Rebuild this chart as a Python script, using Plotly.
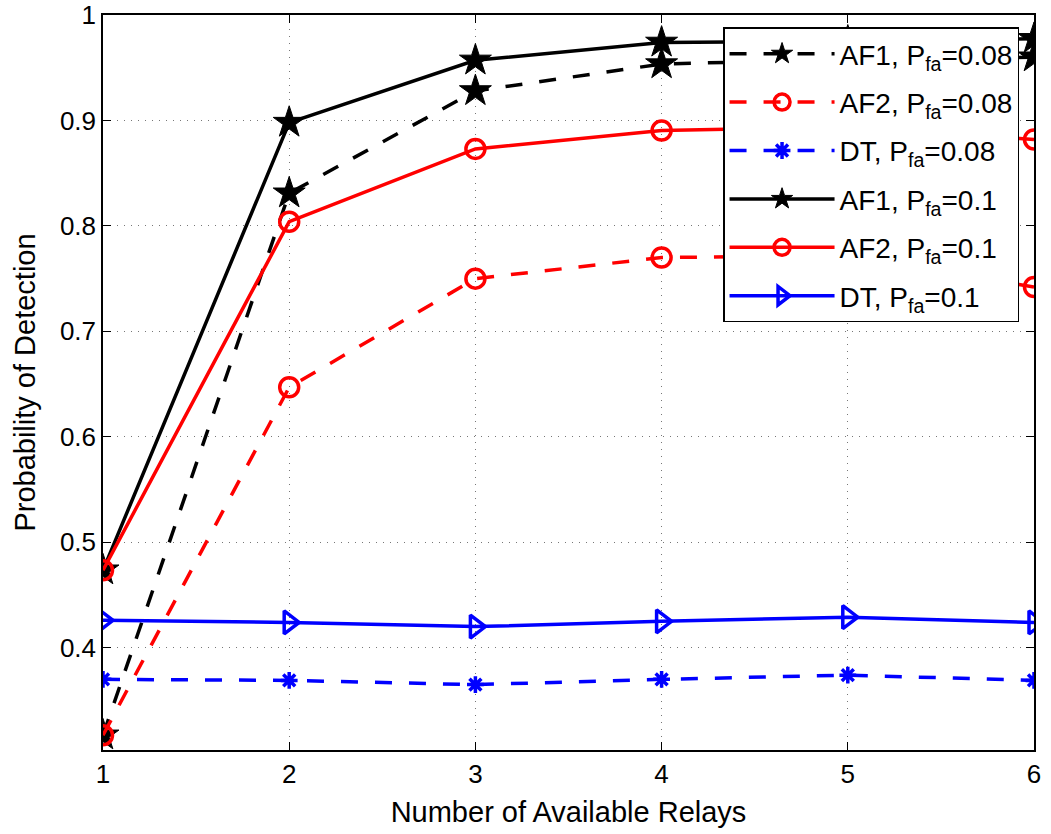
import plotly.graph_objects as go

relays = [1, 2, 3, 4, 5, 6]

af1_008 = [0.317, 0.831, 0.928, 0.9535, 0.958, 0.960]
af2_008 = [0.317, 0.647, 0.750, 0.770, 0.772, 0.742]
dt_008 = [0.370, 0.369, 0.365, 0.370, 0.374, 0.369]
af1_01 = [0.4735, 0.898, 0.957, 0.974, 0.975, 0.9775]
af2_01 = [0.4735, 0.804, 0.873, 0.8905, 0.894, 0.882]
dt_01 = [0.426, 0.424, 0.420, 0.425, 0.429, 0.424]

x_ticks = [1, 2, 3, 4, 5, 6]
y_ticks = [0.4, 0.5, 0.6, 0.7, 0.8, 0.9, 1.0]
y_tick_text = ["0.4", "0.5", "0.6", "0.7", "0.8", "0.9", "1"]

series = [
    ("AF1, P<sub>fa</sub>=0.08", af1_008, "black", "dash", "star", 24, 1),
    ("AF2, P<sub>fa</sub>=0.08", af2_008, "red", "dash", "circle-open", 19, 3.5),
    ("DT, P<sub>fa</sub>=0.08", dt_008, "blue", "dash", "asterisk-open", 14, 3.5),
    ("AF1, P<sub>fa</sub>=0.1", af1_01, "black", "solid", "star", 24, 1),
    ("AF2, P<sub>fa</sub>=0.1", af2_01, "red", "solid", "circle-open", 19, 3.5),
    ("DT, P<sub>fa</sub>=0.1", dt_01, "blue", "solid", "triangle-right-open", 20, 3.5),
]

fig = go.Figure()
for i, (name, ys, color, dash, symbol, size, mlw) in enumerate(series):
    fig.add_trace(go.Scatter(
        x=relays, y=ys, name=name, mode="lines+markers", legendgroup=f"g{i}",
        line=dict(color=color, width=3.5, dash="17px,17px" if dash == "dash" else "solid"),
        marker=dict(symbol=symbol, size=size, color=color,
                    line=dict(color=color, width=mlw)),
    ))

font_family = "Liberation Sans, Arial, sans-serif"

fig.update_layout(
    width=1051, height=834,
    margin=dict(l=103, r=17, t=15, b=84),
    paper_bgcolor="white", plot_bgcolor="white",
    font=dict(family=font_family, size=26, color="black"),
    showlegend=True,
    legend=dict(
        x=0.666, y=0.983, xanchor="left", yanchor="top",
        bgcolor="white", bordercolor="black", borderwidth=1.5,
        font=dict(size=28, family=font_family),
        itemwidth=105, tracegroupgap=9,
    ),
    xaxis=dict(
        range=[1, 6], tickvals=x_ticks, automargin=False,
        title=dict(text="Number of Available Relays", font=dict(size=29), standoff=14),
        showline=True, linecolor="black", linewidth=1.5, mirror="ticks",
        ticks="inside", ticklen=8, tickcolor="black",
        showgrid=True, gridcolor="#777", griddash="1px,6px", gridwidth=1,
        zeroline=False, tickfont=dict(size=26),
    ),
    yaxis=dict(
        range=[0.303, 1.0], tickvals=y_ticks, ticktext=y_tick_text, automargin=False,
        title=dict(text="Probability of Detection", font=dict(size=29), standoff=16),
        showline=True, linecolor="black", linewidth=1.5, mirror="ticks",
        ticks="inside", ticklen=8, tickcolor="black",
        showgrid=True, gridcolor="#777", griddash="1px,6px", gridwidth=1,
        zeroline=False, tickfont=dict(size=26),
    ),
)

fig.write_html("out.html")
